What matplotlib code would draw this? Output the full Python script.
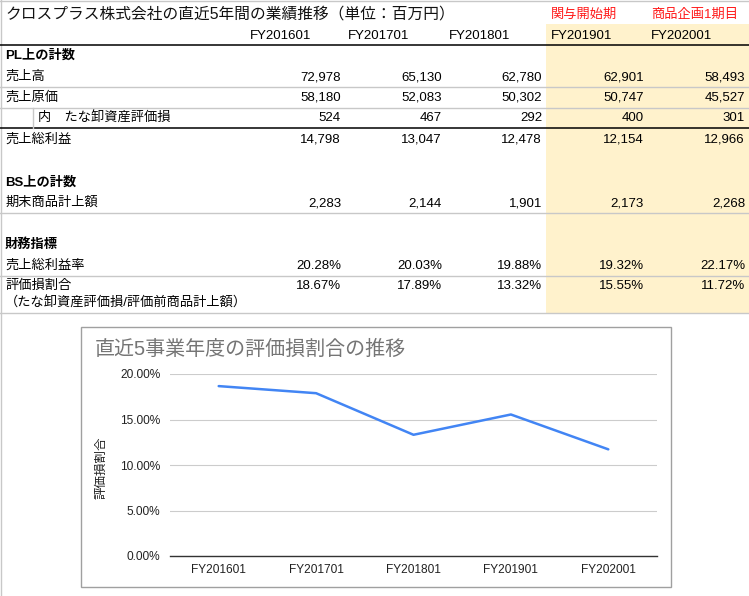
import matplotlib
matplotlib.use("Agg")
import matplotlib.pyplot as plt
from matplotlib.patches import Rectangle
from matplotlib.ticker import FuncFormatter

plt.rcParams['font.family'] = ['Liberation Sans', 'Noto Sans CJK JP', 'DejaVu Sans']

# ---- data ----
years = ['FY201601', 'FY201701', 'FY201801', 'FY201901', 'FY202001']
notes = ['', '', '', '関与開始期', '商品企画1期目']
sales = [72978, 65130, 62780, 62901, 58493]
cogs = [58180, 52083, 50302, 50747, 45527]
writedown = [524, 467, 292, 400, 301]
gross = [14798, 13047, 12478, 12154, 12966]
inventory = [2283, 2144, 1901, 2173, 2268]
gross_margin = [20.28, 20.03, 19.88, 19.32, 22.17]
loss_ratio = [18.67, 17.89, 13.32, 15.55, 11.72]

title_table = 'クロスプラス株式会社の直近5年間の業績推移（単位：百万円）'
chart_title = '直近5事業年度の評価損割合の推移'
ylabel = '評価損割合'
y_ticks = [0, 5, 10, 15, 20]

W, H = 749, 596
fig = plt.figure(figsize=(W / 100, H / 100), dpi=100)
tab = fig.add_axes([0, 0, 1, 1])
tab.set_xlim(0, W)
tab.set_ylim(H, 0)
tab.axis('off')

# shaded columns
tab.add_patch(Rectangle((546, 24), W - 546, 313 - 24, facecolor='#fff2cc', edgecolor='none', zorder=0))

gray = '#c8c8c8'
fs = 9.5
# borders / lines
tab.plot([0.5, 0.5], [0, H], color=gray, lw=1)
tab.plot([0, W], [0.5, 0.5], color=gray, lw=1)
for y in [87, 108, 213, 276, 313]:
    tab.plot([0, W], [y, y], color=gray, lw=1)
for y in [45, 128]:
    tab.plot([0, W], [y, y], color='black', lw=1.1)
tab.plot([33, 33], [108, 128], color=gray, lw=1)

tab.text(5, 14, title_table, fontsize=11.3, va='center', ha='left', color='#111111')

col_left = [250, 348, 449, 551, 651]
col_right = [341, 442, 542, 644, 745]
for i, yr in enumerate(years):
    tab.text(col_left[i], 36, yr, fontsize=fs, va='center', ha='left')
    if notes[i]:
        tab.text(col_left[i], 15, notes[i], fontsize=fs, va='center', ha='left', color='#ff1a1a')

def row(y, label, vals, fmt, x=5):
    tab.text(x, y, label, fontsize=fs, va='center', ha='left')
    for i, v in enumerate(vals):
        tab.text(col_right[i], y, fmt(v), fontsize=fs, va='center', ha='right')

num = lambda v: f'{v:,}'
pct = lambda v: f'{v:.2f}%'

tab.text(5, 56, 'PL上の計数', fontsize=fs, va='center', ha='left', fontweight='bold')
row(77, '売上高', sales, num)
row(98, '売上原価', cogs, num)
row(118, '内　たな卸資産評価損', writedown, num, x=38)
row(140, '売上総利益', gross, num)
tab.text(5, 183, 'BS上の計数', fontsize=fs, va='center', ha='left', fontweight='bold')
row(203, '期末商品計上額', inventory, num)
tab.text(5, 245, '財務指標', fontsize=fs, va='center', ha='left', fontweight='bold')
row(266, '売上総利益率', gross_margin, pct)
row(286, '評価損割合', loss_ratio, pct)
tab.text(5, 303, '（たな卸資産評価損/評価前商品計上額）', fontsize=fs, va='center', ha='left')

# chart box
tab.add_patch(Rectangle((81, 327), 671 - 81, 587 - 327, facecolor='white', edgecolor='#a0a0a0', lw=1, zorder=1))
tab.text(95, 349, chart_title, fontsize=14.4, va='center', ha='left', color='#757575', zorder=2)
tab.text(101, 468, ylabel, fontsize=9, va='center', ha='center', rotation=90, color='#222222', zorder=2)

# chart axes
l, r, t, b = 170, 657, 374, 556
ax = fig.add_axes([l / W, (H - b) / H, (r - l) / W, (b - t) / H])
ax.set_facecolor('none')
x = list(range(len(years)))
ax.plot(x, loss_ratio, color='#4285f4', lw=1.8, solid_capstyle='round')
ax.set_xlim(-0.5, len(years) - 0.5)
ax.set_ylim(0, 20)
ax.set_yticks(y_ticks)
ax.yaxis.set_major_formatter(FuncFormatter(lambda v, p: f'{v:.2f}%'))
ax.set_xticks(x)
ax.set_xticklabels(years)
ax.tick_params(axis='both', length=0, labelsize=8.6, colors='#222222')
ax.tick_params(axis='y', pad=7)
ax.tick_params(axis='x', pad=6)
ax.grid(axis='y', color='#cccccc', lw=0.8)
ax.set_axisbelow(True)
for s in ['top', 'right', 'left']:
    ax.spines[s].set_visible(False)
ax.spines['bottom'].set_color('#333333')
ax.spines['bottom'].set_linewidth(1)

fig.savefig('out.png', dpi=100)
